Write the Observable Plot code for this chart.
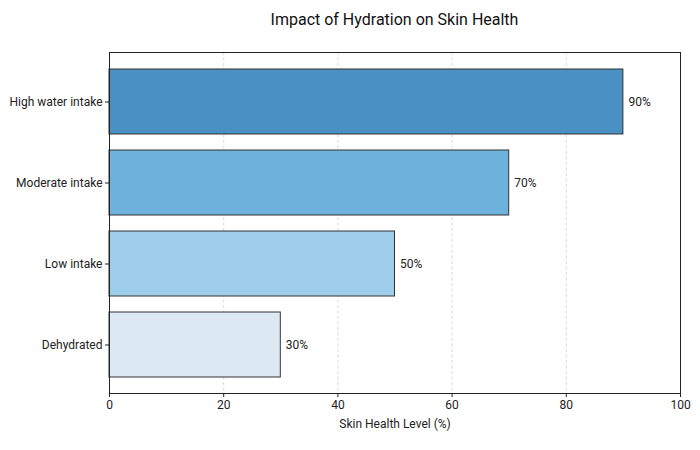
<!DOCTYPE html>
<html>
<head>
<meta charset="utf-8">
<script src="https://cdn.jsdelivr.net/npm/d3@7"></script>
<script src="https://cdn.jsdelivr.net/npm/@observablehq/plot@0.6"></script>
<style>
  html, body { margin: 0; padding: 0; background: #fff; }
  #wrap { position: relative; width: 700px; height: 450px; font-family: Roboto, "Liberation Sans", sans-serif; }
  #title { position: absolute; top: 9px; left: 109px; width: 571px; text-align: center; font-size: 16px; color: #111; line-height: 22px; }
  #chart { position: absolute; top: 40px; left: 0; }
</style>
</head>
<body>
<div id="wrap">
  <div id="title">Impact of Hydration on Skin Health</div>
  <div id="chart"></div>
</div>
<script>
const categories = ["High water intake", "Moderate intake", "Low intake", "Dehydrated"];
const values = [90, 70, 50, 30];
const xTicks = [0, 20, 40, 60, 80, 100];
const gridTicks = [20, 40, 60, 80];
const palette = ["#4a90c3", "#6cb2dc", "#9fcdec", "#dce9f3"];
const xLabel = "Skin Health Level (%)";

const data = categories.map((c, i) => ({cat: c, value: values[i]}));

const chart = Plot.plot({
  width: 700,
  height: 410,
  marginLeft: 109,
  marginRight: 20,
  marginTop: 12,
  marginBottom: 57,
  style: {fontFamily: "Roboto, 'Liberation Sans', sans-serif", fontSize: "12px", color: "#222", background: "#fff"},
  x: {domain: [0, 100], label: null},
  y: {domain: categories, paddingInner: 0.2, paddingOuter: 0.19, label: null},
  color: {domain: categories, range: palette},
  marks: [
    Plot.gridX(gridTicks, {stroke: "#bbb", strokeOpacity: 0.7, strokeWidth: 0.8, strokeDasharray: "3,2.5"}),
    Plot.barX(data, {x: "value", y: "cat", fill: "cat", stroke: "#333", strokeWidth: 1}),
    Plot.text(data, {x: "value", y: "cat", text: d => d.value + "%", textAnchor: "start", dx: 5, fontSize: 12, fill: "#222"}),
    Plot.frame({stroke: "#222"}),
    Plot.axisX({ticks: xTicks, tickSize: 4, tickPadding: 3, label: null, fontSize: 12}),
    Plot.axisY({tickSize: 4, tickPadding: 3, label: null, fontSize: 12}),
    Plot.text([xLabel], {text: d => d, frameAnchor: "bottom", dy: 34, fontSize: 12, fill: "#222"})
  ]
});
document.getElementById("chart").appendChild(chart);
</script>
</body>
</html>
